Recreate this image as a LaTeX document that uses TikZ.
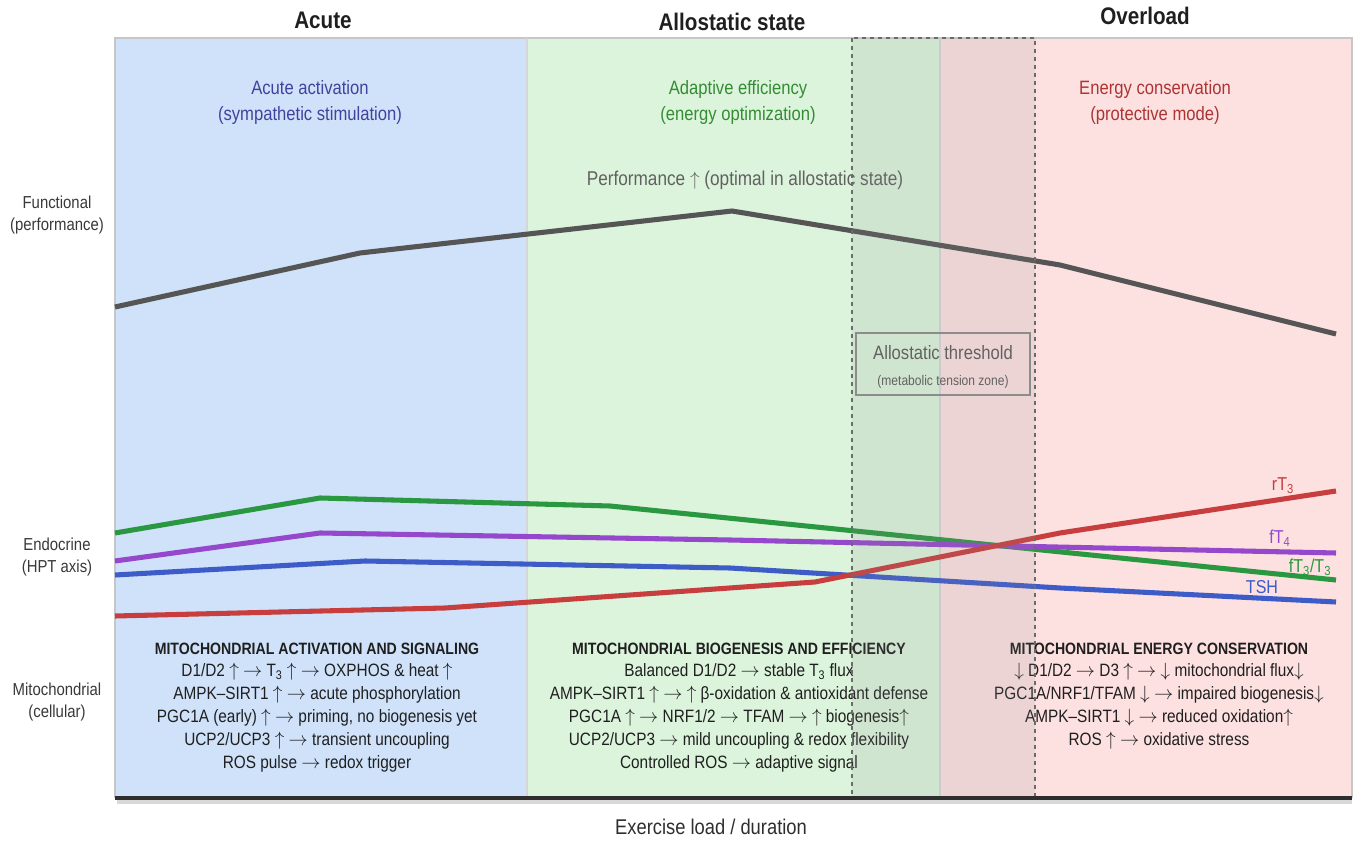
\documentclass[tikz,border=0pt]{standalone}
\usepackage{fontspec}
\setmainfont{Liberation Sans}[FakeStretch=0.86]
\usepackage{xcolor}
\usetikzlibrary{positioning}
\definecolor{acutebg}{RGB}{207,226,250}
\definecolor{allobg}{RGB}{220,244,220}
\definecolor{overbg}{RGB}{253,224,224}
\definecolor{perfgray}{RGB}{85,85,85}
\definecolor{tshblue}{RGB}{62,92,200}
\definecolor{ftfourpurple}{RGB}{150,72,205}
\definecolor{ftthreegreen}{RGB}{42,152,64}
\definecolor{rtthreered}{RGB}{200,62,62}
\definecolor{acutetext}{RGB}{66,66,158}
\definecolor{allotext}{RGB}{52,140,52}
\definecolor{overtext}{RGB}{172,52,52}
\newcommand{\toarr}{$\rightarrow$}
\newcommand{\uparr}{$\uparrow$}
\newcommand{\dnarr}{$\downarrow$}
\newcommand{\mitofont}{\bfseries\fontsize{12.3}{17.1}\selectfont}

\begin{document}
\begin{tikzpicture}[x=0.75pt,y=-0.75pt,
		header/.style={font=\bfseries\fontsize{18}{21}\selectfont, text=black!88},
		phasemode/.style={align=center, font=\fontsize{14.5}{19.5}\selectfont},
		rowlabel/.style={align=center, text=black!78, font=\fontsize{13}{17}\selectfont},
		mito/.style={align=center, anchor=north, text=black!88, font=\fontsize{13.4}{17.1}\selectfont},
		hptline/.style={line width=3.8pt, line join=round},
		hptlabel/.style={font=\fontsize{14}{16}\selectfont}]
		\useasboundingbox (0,0) rectangle (1354,841);
		\fill[acutebg] (115,38) rectangle (527,798);
		\fill[allobg] (527,38) rectangle (940,798);
		\fill[overbg] (940,38) rectangle (1352,798);
		\draw[black!22, line width=0.9pt] (115,798) |- (1352,38) -- (1352,798);
		\draw[black!16, line width=0.9pt] (527,38) -- (527,798) (940,38) -- (940,798);
		\node[header] (hacute) at (323,20) {Acute};
		\node[header] (hallo) at (732,22) {Allostatic state};
		\node[header] (hover) at (1145,16) {Overload};
		\node[phasemode, text=acutetext] (macute) at (310,103) {Acute activation\\(sympathetic stimulation)};
		\node[phasemode, text=allotext] (mallo) at (738,103) {Adaptive efficiency\\(energy optimization)};
		\node[phasemode, text=overtext] (mover) at (1155,103) {Energy conservation\\(protective mode)};
		\node[rowlabel] (rfunc) at (57,215) {Functional\\(performance)};
		\node[rowlabel] (rendo) at (57,557) {Endocrine\\(HPT axis)};
		\node[rowlabel] (rmito) at (57,702) {Mitochondrial\\(cellular)};
		\draw[hptline, perfgray] (115,307) -- (360,253) -- (732,211) -- (1060,265) -- (1336,334);
		\node[text=black!62, font=\fontsize{15}{17}\selectfont] (perf) at (745,180) {Performance \uparr{} (optimal in allostatic state)};
		\draw[hptline, ftthreegreen] (115,533) -- (320,498) -- (610,506) -- (1336,580);
		\draw[hptline, ftfourpurple] (115,561) -- (320,533) -- (730,540) -- (1336,553);
		\draw[hptline, tshblue] (115,575) -- (365,561) -- (730,568) -- (1060,588) -- (1336,602);
		\draw[hptline, rtthreered] (115,616) -- (445,608) -- (815,582) -- (1060,533) -- (1336,491);
		\node[hptlabel, text=rtthreered] (lrt) at (1283,486) {rT\textsubscript{3}};
		\node[hptlabel, text=ftfourpurple] (lft4) at (1280,538) {fT\textsubscript{4}};
		\node[hptlabel, text=ftthreegreen] (lft3) at (1310,567) {fT\textsubscript{3}/T\textsubscript{3}};
		\node[hptlabel, text=tshblue] (ltsh) at (1262,587) {TSH};
		\node[mito] (macti) at (317,638) {{\mitofont MITOCHONDRIAL ACTIVATION AND SIGNALING}\\
			D1/D2 \uparr{} \toarr{} T\textsubscript{3} \uparr{} \toarr{} OXPHOS \& heat \uparr\\
			AMPK–SIRT1 \uparr{} \toarr{}  acute phosphorylation\\
			PGC1A (early) \uparr{} \toarr{} priming, no biogenesis yet\\
			UCP2/UCP3 \uparr{} \toarr{} transient uncoupling\\
			ROS pulse \toarr{} redox trigger};
		\node[mito] (mbio) at (739,638) {{\mitofont MITOCHONDRIAL BIOGENESIS AND EFFICIENCY}\\
			Balanced D1/D2 \toarr{} stable T\textsubscript{3} flux\\
			AMPK–SIRT1 \uparr{} \toarr{} \uparr{} β-oxidation \& antioxidant defense\\
			PGC1A \uparr{} \toarr{} NRF1/2 \toarr{} TFAM \toarr{} \uparr{} biogenesis\uparr\\
			UCP2/UCP3 \toarr{} mild uncoupling \& redox flexibility\\
			Controlled ROS \toarr{} adaptive signal};
		\node[mito] (mcons) at (1159,638) {{\mitofont MITOCHONDRIAL ENERGY CONSERVATION}\\
			\dnarr{} D1/D2 \toarr{} D3 \uparr{} \toarr{} \dnarr{} mitochondrial flux\dnarr\\
			PGC1A/NRF1/TFAM \dnarr{} \toarr{} impaired biogenesis\dnarr\\
			AMPK–SIRT1 \dnarr{} \toarr{} reduced oxidation\uparr\\
			ROS \uparr{} \toarr{} oxidative stress};
		\fill[black!45, opacity=0.14] (852,38) rectangle (1035,798);
		\draw[black!58, line width=0.9pt, dashed] (852,38) rectangle (1035,798);
		\node[draw=black!45, line width=1pt, minimum width=130.5pt, minimum height=46.5pt] (thresh) at (943,364) {};
		\node[align=center, text=black!62, font=\fontsize{14.5}{19.5}\selectfont] (threshtext) at (943,367)
			{Allostatic threshold\\{\fontsize{10.5}{12}\selectfont(metabolic tension zone)}};
		\draw[black!15, line width=3pt] (117,802) -- (1352,802);
		\draw[black!82, line width=3.2pt] (115,798) -- (1352,798);
		\node[font=\fontsize{16}{18}\selectfont, text=black!82] (xlabel) at (711,827) {Exercise load / duration};
	\end{tikzpicture}
\end{document}
